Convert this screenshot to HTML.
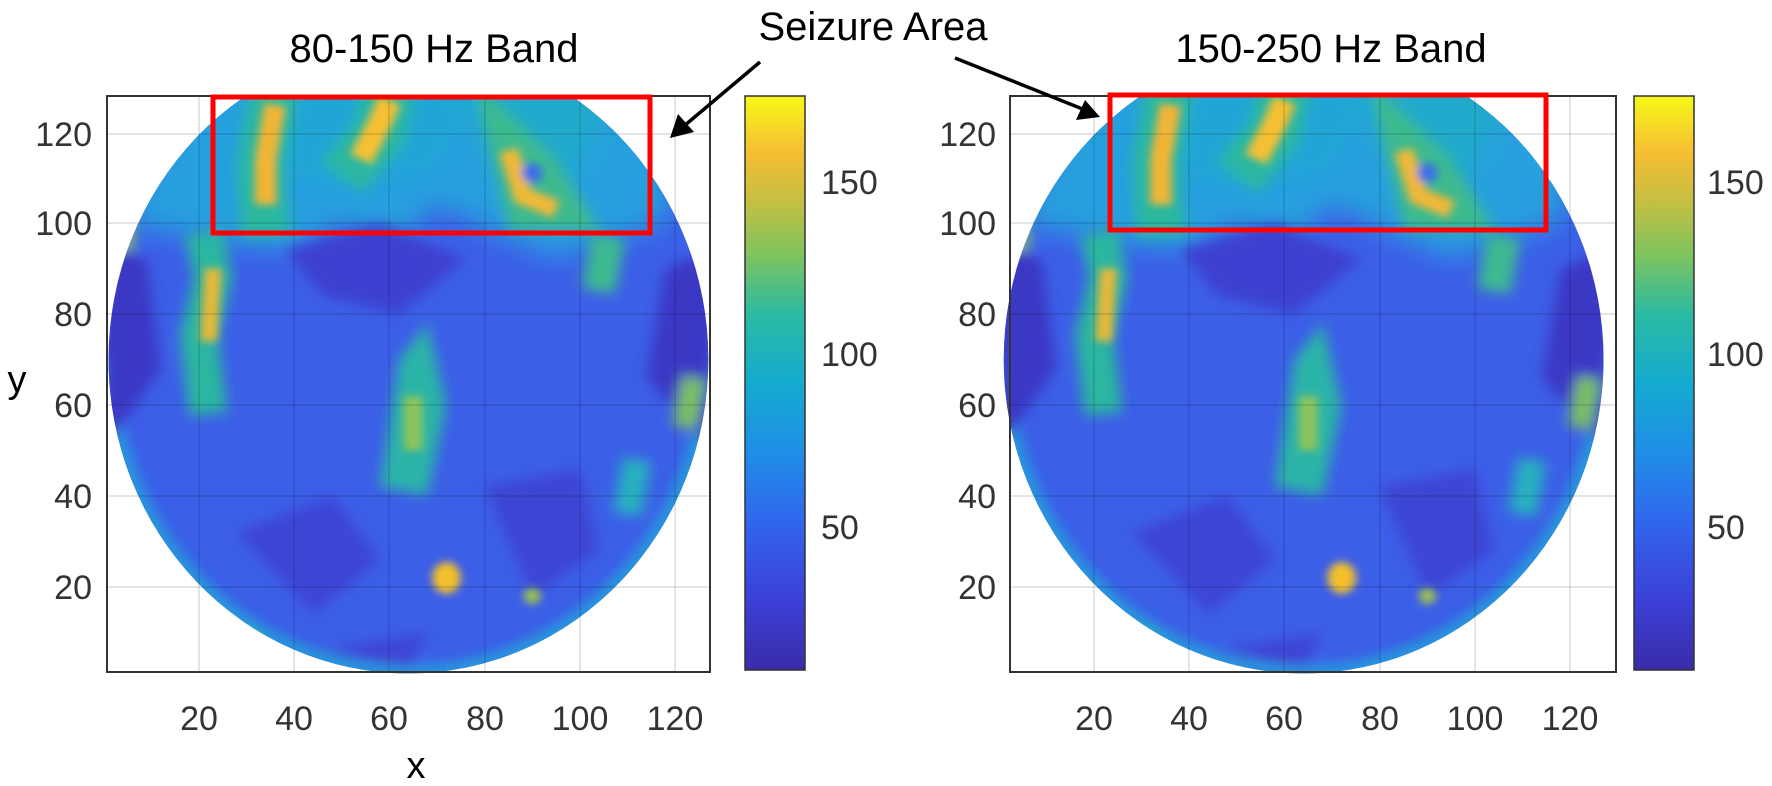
<!DOCTYPE html>
<html><head><meta charset="utf-8"><style>
html,body{margin:0;padding:0;background:#fff;}
svg{display:block;font-family:"Liberation Sans",Arial,sans-serif;}
</style></head><body>
<svg width="1772" height="786" viewBox="0 0 1772 786" xmlns="http://www.w3.org/2000/svg">
<defs>
<linearGradient id="cb" x1="0" y1="1" x2="0" y2="0">
<stop offset="0" stop-color="#3a2ca8"/>
<stop offset="0.12" stop-color="#3b3fd6"/>
<stop offset="0.25" stop-color="#3264ee"/>
<stop offset="0.38" stop-color="#1f8ee6"/>
<stop offset="0.5" stop-color="#14abd0"/>
<stop offset="0.62" stop-color="#2bbaa2"/>
<stop offset="0.72" stop-color="#7cc460"/>
<stop offset="0.82" stop-color="#c8bf40"/>
<stop offset="0.9" stop-color="#f5bd33"/>
<stop offset="1" stop-color="#f6f818"/>
</linearGradient>
<filter id="bl" filterUnits="userSpaceOnUse" x="-10" y="-10" width="150" height="150"><feGaussianBlur stdDeviation="1.4"/></filter>
<filter id="bl3" filterUnits="userSpaceOnUse" x="-10" y="-10" width="150" height="160"><feGaussianBlur stdDeviation="3"/></filter>
<filter id="bl2" filterUnits="userSpaceOnUse" x="-10" y="-10" width="150" height="150"><feGaussianBlur stdDeviation="0.9"/></filter>
<clipPath id="circ"><ellipse cx="64" cy="70" rx="63" ry="69"/></clipPath>
<clipPath id="top"><rect x="0" y="0" width="130" height="127.8"/></clipPath>
<g id="map">
 <g clip-path="url(#top)"><g clip-path="url(#circ)">
  <rect x="0" y="0" width="130" height="140" fill="#3c5fe8"/>
  <g filter="url(#bl3)">
   <polygon points="4,100 20,135 124,135 118,100 104,96 96,92 82,98 70,104 62,96 50,100 40,94 24,96" fill="#27a0de"/>
   <polygon points="92,105 100,112 110,135 70,135 80,118" fill="#22aacc"/>
  </g>
  <g filter="url(#bl)">
   <path d="M1,70 A63,69 0 0 1 127,70" fill="none" stroke="#22a2d8" stroke-width="3"/>
   <polygon points="0,50 12,68 9,92 0,96" fill="#3a37c4"/>
   <polygon points="128,50 114,66 118,90 128,94" fill="#3a37c4"/>
   <polygon points="38,94 58,100 76,92 62,80 46,84" fill="#3c3fd0"/>
   <polygon points="28,32 48,40 58,26 44,14" fill="#3c45d6"/>
   <polygon points="80,42 100,46 104,28 90,18" fill="#3c45d6"/>
   <polygon points="46,6 68,10 64,2" fill="#3c45d6"/>
   <polygon points="30,110 40,130 80,130 70,112 55,108" fill="#1ea8d2" opacity="0.6"/>
   <polyline points="22,58 20,75 23,88 21,98" fill="none" stroke="#2bb6a0" stroke-width="8"/>
   <polygon points="58,42 68,40 72,60 68,78 62,70" fill="#2bb4a8"/>
   <polyline points="104,85 106,97" fill="none" stroke="#3cba90" stroke-width="7"/>
   <polyline points="34,97 33,113 36,130" fill="none" stroke="#2cb8a0" stroke-width="10"/>
   <polyline points="50,110 58,120 60,130" fill="none" stroke="#2cb8a0" stroke-width="11"/>
   <polygon points="84,120 88,102 98,102 92,112" fill="none" stroke="#3dba8e" stroke-width="7"/>
   <polyline points="4,94 3,103" fill="none" stroke="#8cc060" stroke-width="5"/>
   <polyline points="122,55 124,66" fill="none" stroke="#7cc060" stroke-width="5"/>
   <polyline points="110,36 112,48" fill="none" stroke="#25b0c0" stroke-width="6"/>
   <polyline points="28,5 32,10" fill="none" stroke="#2bb6a0" stroke-width="4"/>
  </g>
  <g filter="url(#bl2)">
   <polyline points="22,74 23,90" fill="none" stroke="#e8b838" stroke-width="3.5"/>
   <polyline points="65,50 65,62" fill="none" stroke="#8cc55c" stroke-width="4"/>
   <polyline points="34,104 34,114 36,126" fill="none" stroke="#f2b535" stroke-width="4.5"/>
   <polyline points="54,114 58,122 60,127" fill="none" stroke="#f6c030" stroke-width="5"/>
   <polyline points="85,116 88,106 95,103" fill="none" stroke="#f0b838" stroke-width="4"/>
   <circle cx="90" cy="111" r="2.2" fill="#3a70e8"/>
   <ellipse cx="72" cy="22" rx="3" ry="3.5" fill="#f4c02c"/>
   <circle cx="90" cy="18" r="1.8" fill="#9cc250"/>
  </g>
 </g></g>
</g>
</defs>

<!-- LEFT PLOT -->
<g>
 <rect x="107" y="96" width="603" height="576" fill="#fff"/>
 <use href="#map" transform="translate(103.8,678) scale(4.76,-4.55)"/>
 <g stroke="#000" stroke-opacity="0.14" stroke-width="1.5">
  <line x1="199" y1="96" x2="199" y2="672"/><line x1="294" y1="96" x2="294" y2="672"/><line x1="389" y1="96" x2="389" y2="672"/><line x1="485" y1="96" x2="485" y2="672"/><line x1="580" y1="96" x2="580" y2="672"/><line x1="675" y1="96" x2="675" y2="672"/>
  <line x1="107" y1="587" x2="710" y2="587"/><line x1="107" y1="496" x2="710" y2="496"/><line x1="107" y1="405" x2="710" y2="405"/><line x1="107" y1="314" x2="710" y2="314"/><line x1="107" y1="223" x2="710" y2="223"/><line x1="107" y1="134" x2="710" y2="134"/>
 </g>
 <rect x="107" y="96" width="603" height="576" fill="none" stroke="#333" stroke-width="2"/>
 <g font-size="34" fill="#333" text-anchor="end">
  <text x="92" y="599">20</text><text x="92" y="508">40</text><text x="92" y="417">60</text><text x="92" y="326">80</text><text x="92" y="235">100</text><text x="92" y="146">120</text>
 </g>
 <g font-size="34" fill="#333" text-anchor="middle">
  <text x="199" y="730">20</text><text x="294" y="730">40</text><text x="389" y="730">60</text><text x="485" y="730">80</text><text x="580" y="730">100</text><text x="675" y="730">120</text>
 </g>
 <text x="416" y="778" font-size="38" text-anchor="middle">x</text>
 <text x="17" y="392" font-size="38" text-anchor="middle">y</text>
 <rect x="745" y="96" width="60" height="574" fill="url(#cb)" stroke="#333" stroke-width="1.5"/>
 <g font-size="34" fill="#333"><text x="821" y="194">150</text><text x="821" y="366">100</text><text x="821" y="539">50</text></g>
 <rect x="213" y="97" width="437" height="136" fill="none" stroke="#ff0000" stroke-width="5"/>
 <text x="434" y="62" font-size="40" text-anchor="middle">80-150 Hz Band</text>
</g>

<!-- RIGHT PLOT -->
<g transform="translate(897,0)">
 <rect x="113" y="96" width="606" height="576" fill="#fff"/>
 <use href="#map" transform="translate(102,678) scale(4.76,-4.55)"/>
 <g stroke="#000" stroke-opacity="0.14" stroke-width="1.5">
  <line x1="197" y1="96" x2="197" y2="672"/><line x1="292" y1="96" x2="292" y2="672"/><line x1="387" y1="96" x2="387" y2="672"/><line x1="483" y1="96" x2="483" y2="672"/><line x1="578" y1="96" x2="578" y2="672"/><line x1="673" y1="96" x2="673" y2="672"/>
  <line x1="113" y1="587" x2="719" y2="587"/><line x1="113" y1="496" x2="719" y2="496"/><line x1="113" y1="405" x2="719" y2="405"/><line x1="113" y1="314" x2="719" y2="314"/><line x1="113" y1="223" x2="719" y2="223"/><line x1="113" y1="134" x2="719" y2="134"/>
 </g>
 <rect x="113" y="96" width="606" height="576" fill="none" stroke="#333" stroke-width="2"/>
 <g font-size="34" fill="#333" text-anchor="end">
  <text x="99" y="599">20</text><text x="99" y="508">40</text><text x="99" y="417">60</text><text x="99" y="326">80</text><text x="99" y="235">100</text><text x="99" y="146">120</text>
 </g>
 <g font-size="34" fill="#333" text-anchor="middle">
  <text x="197" y="730">20</text><text x="292" y="730">40</text><text x="387" y="730">60</text><text x="483" y="730">80</text><text x="578" y="730">100</text><text x="673" y="730">120</text>
 </g>
 <rect x="737" y="96" width="60" height="574" fill="url(#cb)" stroke="#333" stroke-width="1.5"/>
 <g font-size="34" fill="#333"><text x="810" y="194">150</text><text x="810" y="366">100</text><text x="810" y="539">50</text></g>
 <rect x="213" y="95" width="436" height="135" fill="none" stroke="#ff0000" stroke-width="5"/>
 <text x="434" y="62" font-size="40" text-anchor="middle">150-250 Hz Band</text>
</g>

<!-- annotation -->
<text x="873" y="40" font-size="40" text-anchor="middle">Seizure Area</text>
<g stroke="#000" stroke-width="3.5" fill="#000">
 <line x1="760" y1="62" x2="684" y2="126"/>
 <polygon points="670,138 678,114 694,132" stroke="none"/>
 <line x1="955" y1="58" x2="1085" y2="110"/>
 <polygon points="1100,117 1076,120 1085,100" stroke="none"/>
</g>
</svg>
</body></html>
